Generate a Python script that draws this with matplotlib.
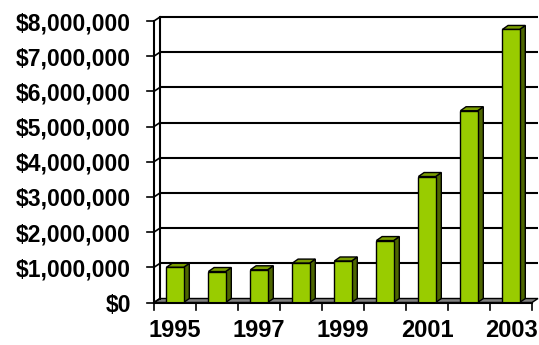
import matplotlib
matplotlib.use("Agg")
import matplotlib.pyplot as plt
from matplotlib.patches import Polygon

plt.rcParams['font.family'] = ['Liberation Sans', 'DejaVu Sans']

years = [1995, 1996, 1997, 1998, 1999, 2000, 2001, 2002, 2003]
revenue = [1000000, 880000, 930000, 1120000, 1180000, 1760000, 3580000, 5450000, 7760000]
y_levels = [0, 1000000, 2000000, 3000000, 4000000, 5000000, 6000000, 7000000, 8000000]
year_labels = ['1995', '1997', '1999', '2001', '2003']

W, H = 539, 345
fig = plt.figure(figsize=(W / 100, H / 100), dpi=100)
# front plane of the 3d box, in pixels
left, right, bottom, top = 154, 532, 302.5, 21
ax = fig.add_axes([left / W, (H - bottom) / H, (right - left) / W, (bottom - top) / H])
n = len(years)
ax.set_xlim(-0.5, n - 0.5)
ax.set_ylim(0, 8000000)
for s in ax.spines.values():
    s.set_visible(False)

# depth offset, 6 px right and 4 px up, in data units
dx = 6 * n / (right - left)
dy = 4 * 8000000 / (bottom - top)

x0, x1 = -0.5, n - 0.5
# floor
ax.add_patch(Polygon([(x0, 0), (x1, 0), (x1 + dx, dy), (x0 + dx, dy)], closed=True,
                     facecolor='#808080', edgecolor='black', lw=1.0, clip_on=False, zorder=1))
# back wall gridlines + side wall diagonals + left ticks
for v in y_levels:
    if v > 0:
        ax.plot([x0 + dx, x1 + dx], [v + dy, v + dy], color='black', lw=1.5,
                clip_on=False, zorder=1, solid_capstyle='butt')
    ax.plot([x0, x0 + dx], [v, v + dy], color='black', lw=1.2, clip_on=False, zorder=1)
    ax.plot([x0 - 7 * n / (right - left), x0], [v, v], color='black', lw=1.2, clip_on=False, zorder=1)
ax.plot([x0 + dx, x0 + dx], [dy, 8000000 + dy], color='black', lw=1.5, clip_on=False, zorder=1)
ax.plot([x0, x0], [0, 8000000], color='black', lw=1.5, clip_on=False, zorder=1)
# bottom axis + ticks between categories
ax.plot([x0, x1], [0, 0], color='black', lw=1.5, clip_on=False, zorder=4)
tick_len = 7 * 8000000 / (bottom - top)
for i in range(n + 1):
    ax.plot([i - 0.5, i - 0.5], [0, -tick_len], color='black', lw=1.2, clip_on=False, zorder=4)

# bars
bw = 0.41
bdx = dx * 0.95
for i, v in enumerate(revenue):
    l, r = i - bw / 2, i + bw / 2
    ax.add_patch(Polygon([(r, 0), (r + bdx, dy), (r + bdx, v + dy), (r, v)], closed=True,
                         facecolor='#4D6600', edgecolor='black', lw=1.0, zorder=3, clip_on=False))
    ax.add_patch(Polygon([(l, v), (r, v), (r + bdx, v + dy), (l + bdx, v + dy)], closed=True,
                         facecolor='#7A9E00', edgecolor='black', lw=1.0, zorder=3, clip_on=False))
ax.bar(range(n), revenue, width=bw, color='#99CC00', edgecolor='black', lw=1.0, zorder=3)

ax.set_yticks(y_levels)
ax.set_yticklabels(['$' + format(v, ',') for v in y_levels], fontsize=16.5, fontweight='bold')
ax.set_xticks(range(0, n, 2))
ax.set_xticklabels(year_labels, fontsize=17, fontweight='bold')
ax.tick_params(axis='y', length=0, pad=16.5)
ax.tick_params(axis='x', length=0, pad=12)

fig.savefig('out.png', dpi=100)
